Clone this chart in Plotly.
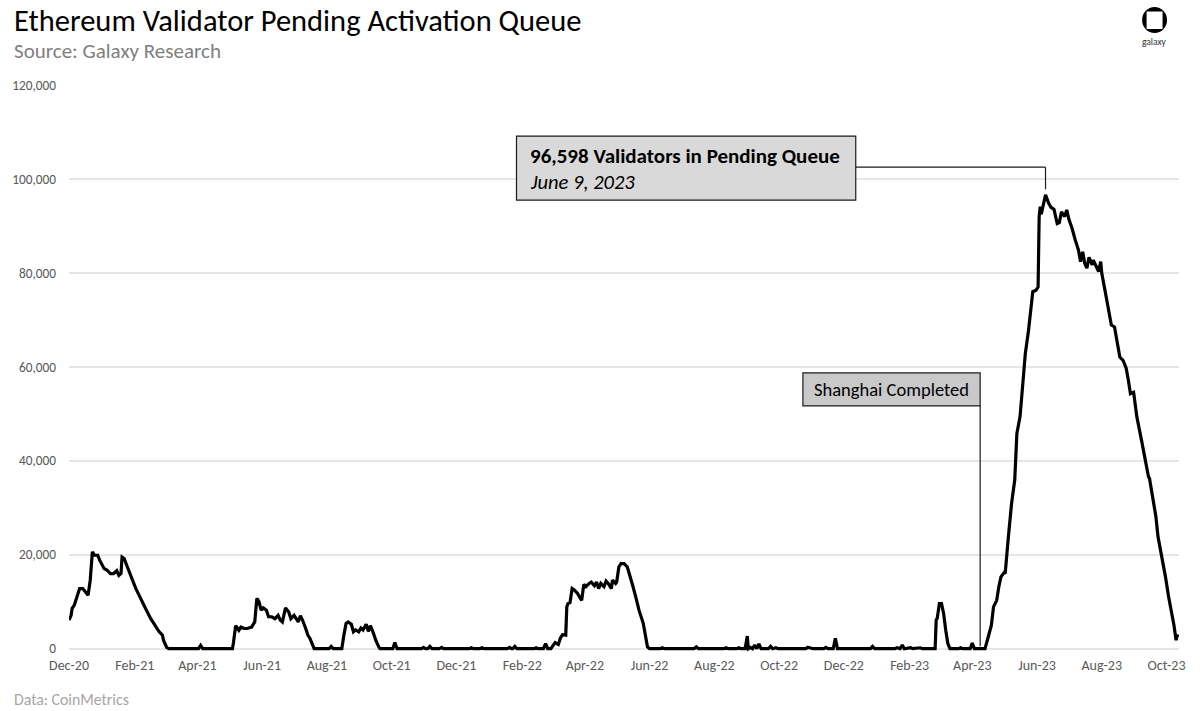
import plotly.graph_objects as go

# ---------------- data ----------------
DATES = [
    "2020-12-01", "2020-12-03", "2020-12-04", "2020-12-06", "2020-12-08", "2020-12-11", "2020-12-14",
    "2020-12-17", "2020-12-19", "2020-12-21", "2020-12-23", "2020-12-25", "2020-12-28", "2020-12-30",
    "2021-01-03", "2021-01-06", "2021-01-09", "2021-01-12", "2021-01-15", "2021-01-17", "2021-01-19",
    "2021-01-20", "2021-01-22", "2021-01-25", "2021-01-28", "2021-02-02", "2021-02-05", "2021-02-09",
    "2021-02-11", "2021-02-16", "2021-02-21", "2021-02-24", "2021-02-27", "2021-02-28", "2021-03-03",
    "2021-03-05", "2021-04-02", "2021-04-04", "2021-04-06", "2021-05-04", "2021-05-05", "2021-05-07",
    "2021-05-10", "2021-05-12", "2021-05-15", "2021-05-18", "2021-05-22", "2021-05-25", "2021-05-27",
    "2021-05-29", "2021-05-31", "2021-06-02", "2021-06-05", "2021-06-07", "2021-06-10", "2021-06-13",
    "2021-06-16", "2021-06-18", "2021-06-20", "2021-06-23", "2021-06-26", "2021-06-28", "2021-07-01",
    "2021-07-03", "2021-07-05", "2021-07-07", "2021-07-09", "2021-07-12", "2021-07-14", "2021-07-16",
    "2021-07-19", "2021-07-20", "2021-08-03", "2021-08-05", "2021-08-07", "2021-08-15", "2021-08-17",
    "2021-08-19", "2021-08-21", "2021-08-24", "2021-08-26", "2021-08-28", "2021-08-31", "2021-09-02",
    "2021-09-04", "2021-09-07", "2021-09-09", "2021-09-11", "2021-09-14", "2021-09-16", "2021-09-19",
    "2021-09-20", "2021-10-02", "2021-10-04", "2021-10-06", "2021-10-29", "2021-10-31", "2021-11-02",
    "2021-11-04", "2021-11-06", "2021-11-08", "2021-11-15", "2021-11-17", "2021-11-19", "2021-12-13",
    "2021-12-15", "2021-12-17", "2021-12-23", "2021-12-25", "2021-12-27", "2022-01-18", "2022-01-20",
    "2022-01-22", "2022-01-23", "2022-01-25", "2022-01-27", "2022-02-12", "2022-02-14", "2022-02-16",
    "2022-02-21", "2022-02-23", "2022-02-25", "2022-02-28", "2022-03-02", "2022-03-04", "2022-03-07",
    "2022-03-09", "2022-03-11", "2022-03-14", "2022-03-15", "2022-03-16", "2022-03-18", "2022-03-20",
    "2022-03-22", "2022-03-25", "2022-03-27", "2022-03-29", "2022-03-31", "2022-04-02", "2022-04-05",
    "2022-04-07", "2022-04-10", "2022-04-12", "2022-04-14", "2022-04-16", "2022-04-19", "2022-04-21",
    "2022-04-23", "2022-04-26", "2022-04-27", "2022-04-30", "2022-05-01", "2022-05-03", "2022-05-05",
    "2022-05-08", "2022-05-11", "2022-05-13", "2022-05-16", "2022-05-19", "2022-05-22", "2022-05-26",
    "2022-05-28", "2022-05-30", "2022-06-01", "2022-06-11", "2022-06-13", "2022-06-15", "2022-07-13",
    "2022-07-15", "2022-07-17", "2022-08-10", "2022-08-12", "2022-08-14", "2022-08-22", "2022-08-24",
    "2022-08-26", "2022-08-30", "2022-09-01", "2022-09-02", "2022-09-04", "2022-09-06", "2022-09-08",
    "2022-09-10", "2022-09-12", "2022-09-14", "2022-09-21", "2022-09-23", "2022-09-25", "2022-09-28",
    "2022-09-30", "2022-10-26", "2022-10-28", "2022-10-31", "2022-11-02", "2022-11-12", "2022-11-14",
    "2022-11-16", "2022-11-21", "2022-11-23", "2022-11-25", "2022-12-26", "2022-12-28", "2022-12-30",
    "2023-01-18", "2023-01-20", "2023-01-22", "2023-01-23", "2023-01-25", "2023-01-27", "2023-02-02",
    "2023-02-04", "2023-02-11", "2023-02-13", "2023-02-25", "2023-02-26", "2023-02-27", "2023-03-01",
    "2023-03-03", "2023-03-05", "2023-03-07", "2023-03-09", "2023-03-11", "2023-03-19", "2023-03-21",
    "2023-03-23", "2023-03-30", "2023-04-01", "2023-04-03", "2023-04-13", "2023-04-16", "2023-04-19",
    "2023-04-21", "2023-04-24", "2023-04-26", "2023-04-28", "2023-05-01", "2023-05-02", "2023-05-05",
    "2023-05-08", "2023-05-11", "2023-05-13", "2023-05-16", "2023-05-18", "2023-05-21", "2023-05-24",
    "2023-05-26", "2023-05-28", "2023-05-31", "2023-06-02", "2023-06-03", "2023-06-04", "2023-06-05",
    "2023-06-07", "2023-06-08", "2023-06-09", "2023-06-12", "2023-06-14", "2023-06-17", "2023-06-20",
    "2023-06-22", "2023-06-24", "2023-06-27", "2023-06-29", "2023-07-01", "2023-07-04", "2023-07-07",
    "2023-07-10", "2023-07-12", "2023-07-14", "2023-07-16", "2023-07-18", "2023-07-20", "2023-07-23",
    "2023-07-24", "2023-07-27", "2023-07-29", "2023-07-31", "2023-08-01", "2023-08-04", "2023-08-07",
    "2023-08-10", "2023-08-13", "2023-08-15", "2023-08-18", "2023-08-21", "2023-08-24", "2023-08-26",
    "2023-08-28", "2023-08-31", "2023-09-03", "2023-09-08", "2023-09-11", "2023-09-14", "2023-09-15",
    "2023-09-19", "2023-09-21", "2023-09-23", "2023-09-27", "2023-09-30", "2023-10-03", "2023-10-06",
    "2023-10-08", "2023-10-10", "2023-10-11", "2023-10-12",
]
PENDING = [
    6100, 7100, 8600, 9300, 10700, 12800, 12800,
    11800, 11400, 14600, 20600, 19900, 19900, 18800,
    17100, 16700, 16000, 16000, 16600, 15600, 16000,
    19500, 19200, 17400, 15600, 12800, 11400, 9300,
    8600, 6400, 4600, 3600, 2900, 1800, 300,
    0, 0, 700, 0, 0, 1400, 4900,
    3900, 4600, 4300, 4300, 4600, 5700, 10700,
    10000, 8200, 8700, 8200, 6800, 6800, 6400,
    7100, 6100, 5700, 8700, 7800, 6400, 7100,
    6400, 5700, 7000, 6100, 4300, 2900, 2200,
    400, 0, 0, 500, 0, 0, 2900,
    5400, 5700, 5200, 3600, 4000, 3600, 4400,
    4000, 5200, 3700, 4900, 3200, 1800, 300,
    0, 0, 1300, 0, 0, 300, 0,
    0, 500, 0, 0, 300, 0, 0,
    200, 0, 0, 200, 0, 0, 300,
    0, 0, 500, 0, 0, 200, 0,
    0, 1100, 0, 0, 700, 1300, 900,
    2300, 3000, 2900, 8900, 9600, 9800, 12800,
    12500, 11800, 11000, 10300, 13700, 13200, 13900,
    14200, 13400, 14200, 12800, 13900, 13200, 14400,
    13900, 12800, 14600, 13900, 14200, 17400, 18100,
    18100, 17400, 16000, 13500, 11000, 8200, 5400,
    2900, 400, 0, 0, 200, 0, 0,
    400, 0, 0, 200, 0, 0, 200,
    0, 0, 2700, 0, 300, 0, 800,
    0, 1000, 0, 0, 500, 0, 200,
    0, 0, 300, 200, 0, 0, 300,
    0, 0, 2200, 0, 0, 500, 0,
    0, 200, 0, 0, 800, 0, 200,
    0, 200, 0, 0, 6100, 6500, 9600,
    9600, 7500, 3900, 1100, 0, 0, 200,
    0, 0, 1200, 0, 0, 2500, 5000,
    8900, 10300, 13200, 15300, 16200, 16000, 23800,
    30900, 35900, 45800, 49400, 55700, 62900, 67800,
    72100, 76000, 76300, 77000, 92000, 94100, 92500,
    94600, 95000, 96598, 94800, 94000, 93500, 90500,
    90700, 93000, 92000, 93400, 91400, 89500, 87000,
    84900, 82400, 84500, 82000, 81000, 83300, 81700,
    82700, 81000, 80300, 82400, 79900, 76300, 72100,
    68900, 68500, 65700, 62100, 61400, 59700, 57200,
    54300, 54600, 49400, 43700, 39800, 36600, 36200,
    30900, 28100, 23800, 19200, 15300, 11000, 7500,
    5000, 1800, 2900, 2500,
]

X_TICK_DATES = ["2020-12-01", "2021-02-01", "2021-04-01", "2021-06-01", "2021-08-01", "2021-10-01",
                "2021-12-01", "2022-02-01", "2022-04-01", "2022-06-01", "2022-08-01", "2022-10-01",
                "2022-12-01", "2023-02-01", "2023-04-01", "2023-06-01", "2023-08-01", "2023-10-01"]
X_TICK_TEXT = ["Dec-20", "Feb-21", "Apr-21", "Jun-21", "Aug-21", "Oct-21", "Dec-21", "Feb-22",
               "Apr-22", "Jun-22", "Aug-22", "Oct-22", "Dec-22", "Feb-23", "Apr-23", "Jun-23",
               "Aug-23", "Oct-23"]
Y_TICKS = [0, 20000, 40000, 60000, 80000, 100000, 120000]
Y_TICK_TEXT = ["0", "20,000", "40,000", "60,000", "80,000", "100,000", "120,000"]

TITLE = "Ethereum Validator Pending Activation Queue"
SUBTITLE = "Source: Galaxy Research"
FOOTNOTE = "Data: CoinMetrics"
PEAK_DATE = "2023-06-09"
PEAK_VALUE = 96598
PEAK_LABEL = "96,598 Validators in Pending Queue"
PEAK_DATE_LABEL = "June 9, 2023"
SHANGHAI_LABEL = "Shanghai Completed"
SHANGHAI_DATE = "2023-04-08 10:00"

# ---------------- layout geometry ----------------
W, H = 1200, 711
ML, MR, MT, MB = 66, 21, 85, 59
FONT = "Calibri, Carlito, Lato, sans-serif"


def px(xp):
    return (xp - ML) / (W - ML - MR)


def py(yp):
    return (H - MB - yp) / (H - MT - MB)


fig = go.Figure()
fig.add_trace(go.Scatter(
    x=DATES, y=PENDING, mode="lines",
    line=dict(color="#000000", width=3.2, shape="linear"),
    hoverinfo="x+y", showlegend=False,
))

shapes = []
annotations = []

# Peak annotation box + connector
shapes.append(dict(type="rect", xref="x", yref="y",
                   x0="2022-01-26 14:00", x1="2022-12-12 05:00", y0=95500, y1=109100,
                   fillcolor="#d9d9d9", line=dict(color="#1a1a1a", width=1.2), layer="above"))
shapes.append(dict(type="line", xref="x", yref="y",
                   x0="2022-12-12 05:00", x1=PEAK_DATE, y0=102500, y1=102500,
                   line=dict(color="#1a1a1a", width=1.2)))
shapes.append(dict(type="line", xref="x", yref="y",
                   x0=PEAK_DATE, x1=PEAK_DATE, y0=102500, y1=PEAK_VALUE + 1200,
                   line=dict(color="#1a1a1a", width=1.2)))
annotations.append(dict(xref="x", yref="y", x="2022-02-06", y=104900, xanchor="left", yanchor="middle",
                        text="<b>" + PEAK_LABEL + "</b>", showarrow=False,
                        font=dict(family=FONT, size=21, color="#000000")))
annotations.append(dict(xref="x", yref="y", x="2022-02-06", y=99300, xanchor="left", yanchor="middle",
                        text="<i>" + PEAK_DATE_LABEL + "</i>", showarrow=False,
                        font=dict(family=FONT, size=20.5, color="#000000")))

# Shanghai annotation
shapes.append(dict(type="rect", xref="x", yref="y",
                   x0="2022-10-23 10:00", x1=SHANGHAI_DATE, y0=51700, y1=58700,
                   fillcolor="#c9c9c9", line=dict(color="#1a1a1a", width=1.2), layer="above"))
shapes.append(dict(type="line", xref="x", yref="y",
                   x0=SHANGHAI_DATE, x1=SHANGHAI_DATE, y0=51700, y1=500,
                   line=dict(color="#1a1a1a", width=1.2)))
annotations.append(dict(xref="x", yref="y", x="2023-01-14 19:00", y=55200, xanchor="center", yanchor="middle",
                        text=SHANGHAI_LABEL, showarrow=False,
                        font=dict(family=FONT, size=18.5, color="#000000")))

# Titles
annotations.append(dict(xref="paper", yref="paper", x=px(9), y=py(20), xanchor="left", yanchor="middle",
                        text=TITLE, showarrow=False, font=dict(family=FONT, size=30.5, color="#000000")))
annotations.append(dict(xref="paper", yref="paper", x=px(9), y=py(51), xanchor="left", yanchor="middle",
                        text=SUBTITLE, showarrow=False, font=dict(family=FONT, size=21, color="#7f7f7f")))
annotations.append(dict(xref="paper", yref="paper", x=px(9), y=py(699), xanchor="left", yanchor="middle",
                        text=FOOTNOTE, showarrow=False, font=dict(family=FONT, size=15.8, color="#a6a6a6")))

# Galaxy logo
shapes.append(dict(type="circle", xref="paper", yref="paper", x0=px(1142), x1=px(1167), y0=py(33), y1=py(7),
                   fillcolor="#000000", line=dict(width=0)))
shapes.append(dict(type="rect", xref="paper", yref="paper", x0=px(1146.5), x1=px(1162.5), y0=py(29), y1=py(11.5),
                   fillcolor="#ffffff", line=dict(width=0)))
annotations.append(dict(xref="paper", yref="paper", x=px(1154.5), y=py(42), xanchor="center", yanchor="middle",
                        text="galaxy", showarrow=False, font=dict(family=FONT, size=9.5, color="#333333")))

fig.update_layout(
    width=W, height=H,
    margin=dict(l=ML, r=MR, t=MT, b=MB, pad=0),
    paper_bgcolor="#ffffff", plot_bgcolor="#ffffff",
    font=dict(family=FONT, color="#595959"),
    shapes=shapes, annotations=annotations,
    showlegend=False,
    xaxis=dict(
        type="date", range=["2020-12-01", "2023-10-12 18:00"],
        tickvals=X_TICK_DATES, ticktext=X_TICK_TEXT,
        showgrid=False, zeroline=False, showline=False, ticks="",
        tickfont=dict(family=FONT, size=14, color="#595959"),
        ticklabelstandoff=3,
    ),
    yaxis=dict(
        range=[-700, 120000],
        tickvals=Y_TICKS, ticktext=Y_TICK_TEXT,
        showgrid=True, gridcolor="#e6e6e6", gridwidth=1.5,
        zeroline=False, showline=False, ticks="",
        tickfont=dict(family=FONT, size=13.3, color="#595959"),
        ticklabelstandoff=12,
    ),
)

fig.write_html("out.html")
